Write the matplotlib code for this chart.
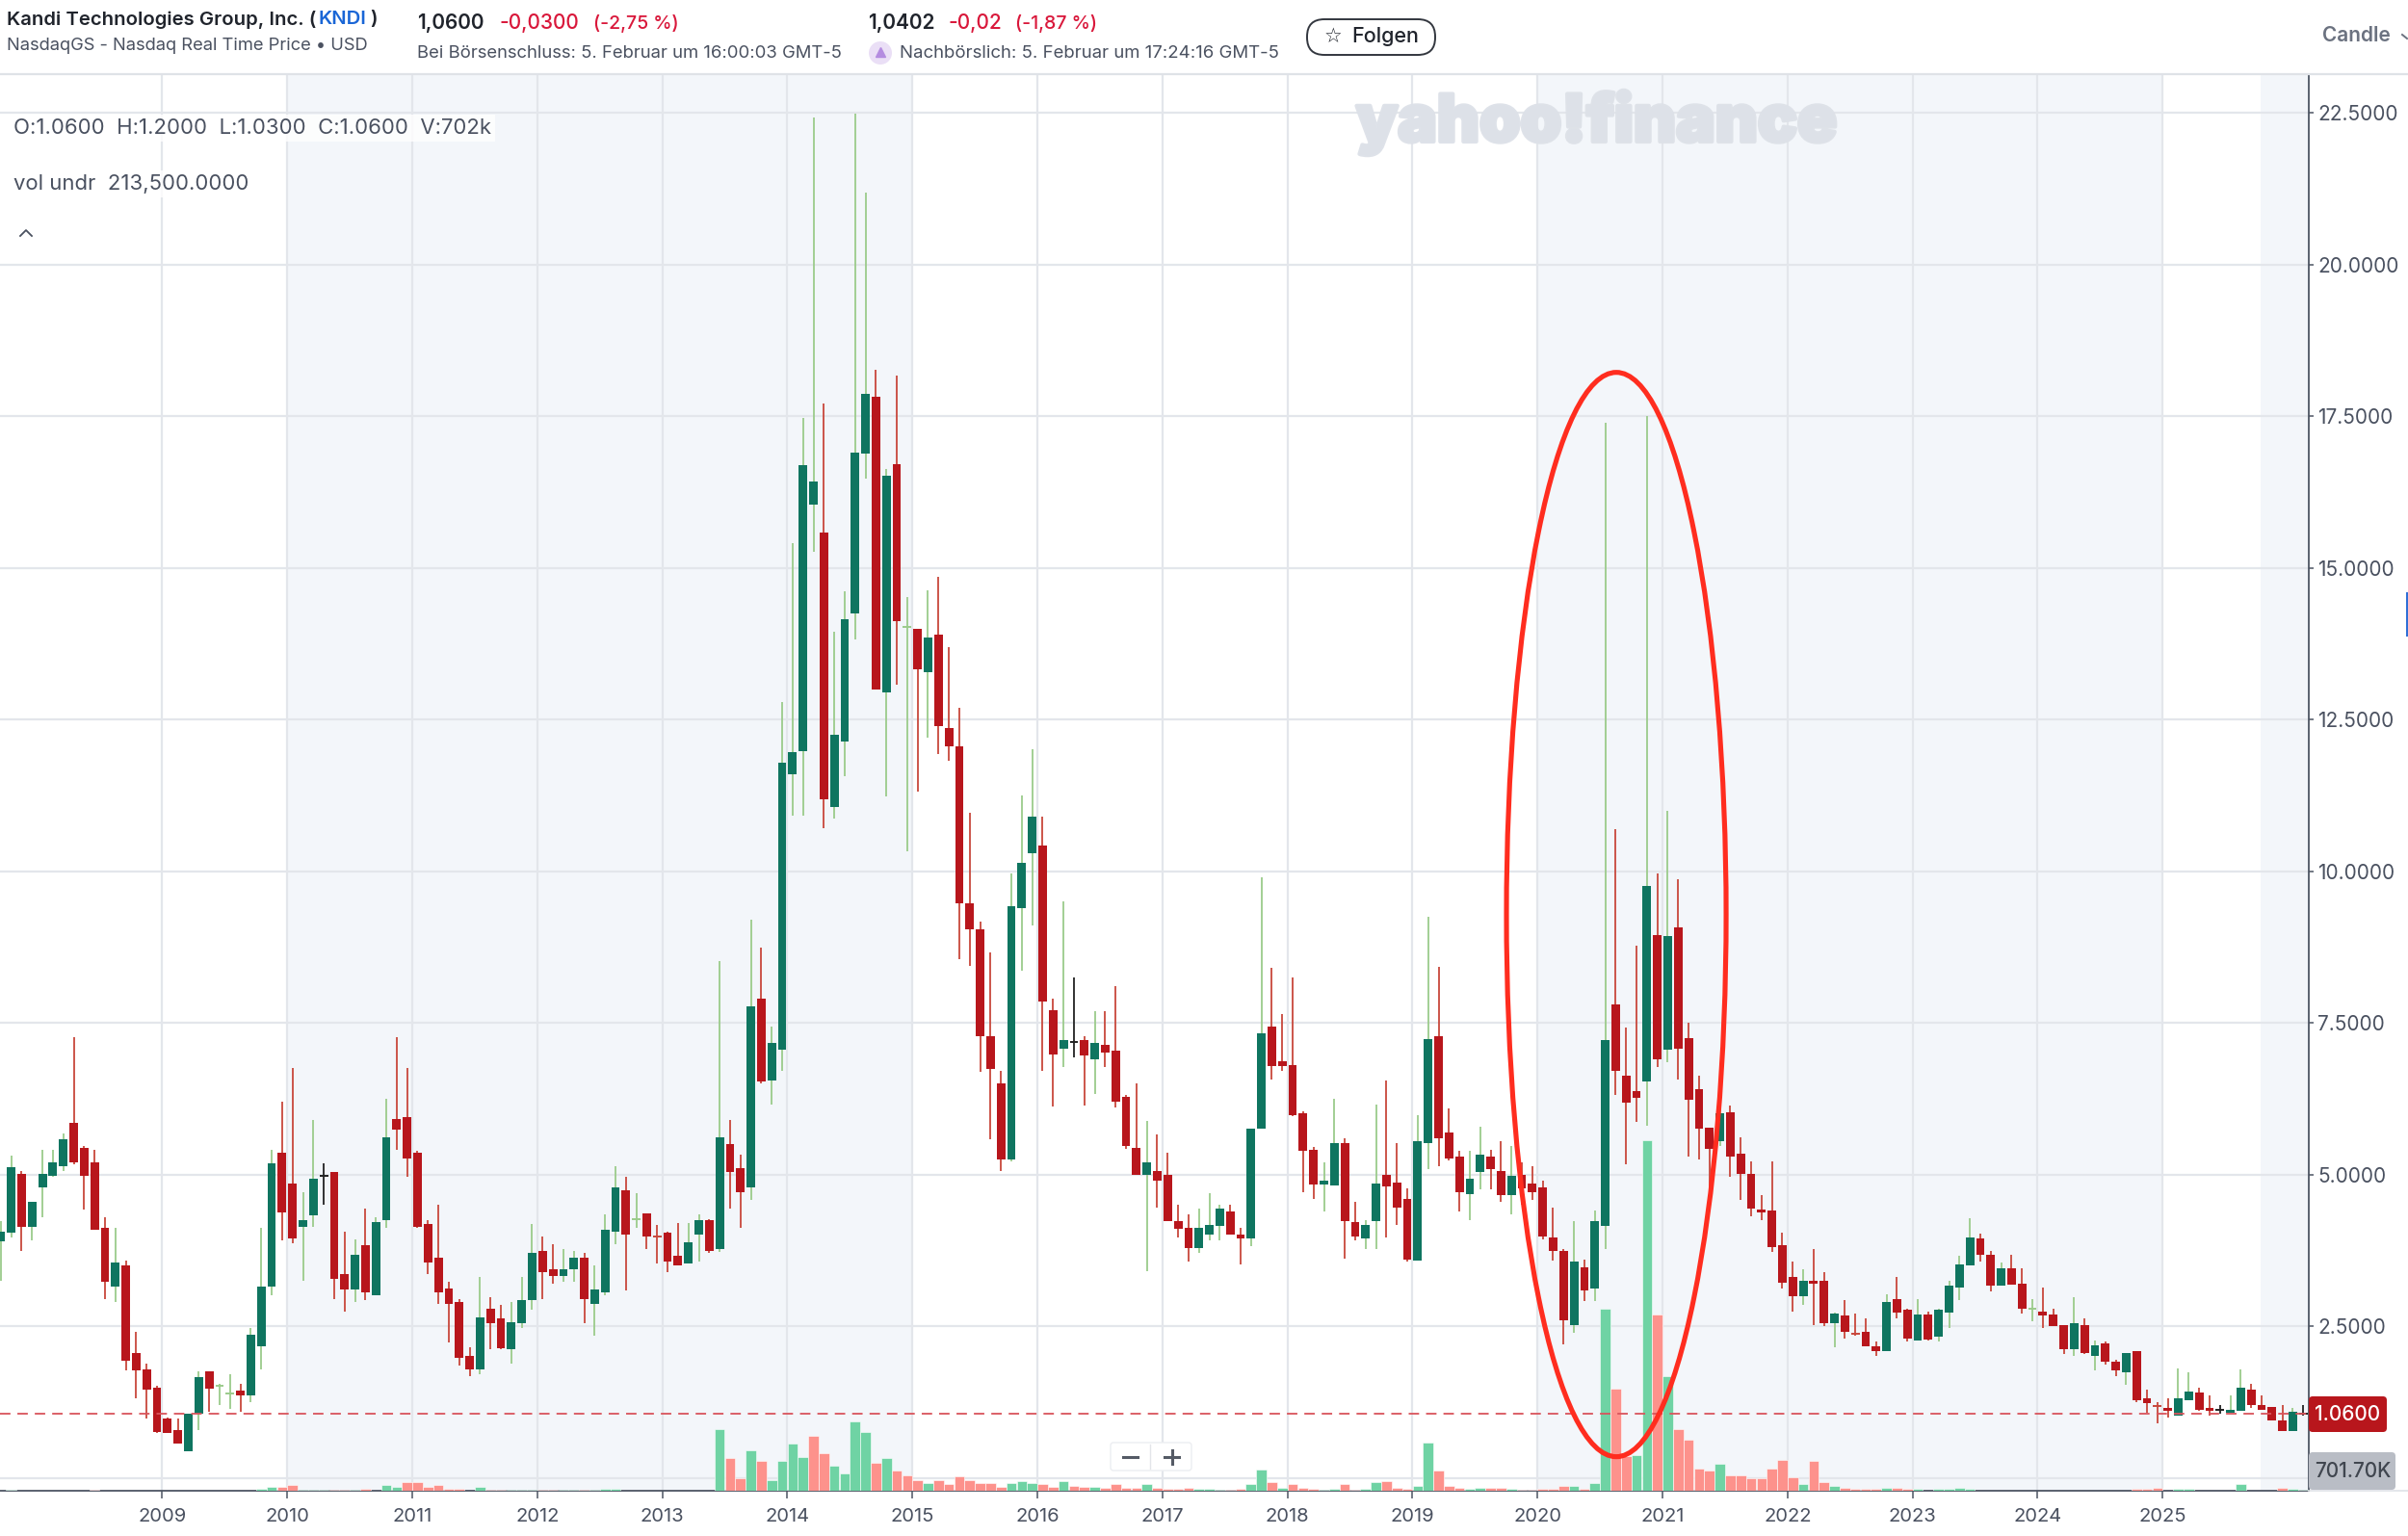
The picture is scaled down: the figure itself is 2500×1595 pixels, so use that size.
# encoding=utf-8
import matplotlib
matplotlib.use('Agg')
import matplotlib.pyplot as plt
import matplotlib.patheffects as pe
from matplotlib.patches import Ellipse, FancyBboxPatch, Circle, Rectangle
import pandas as pd

plt.rcParams['font.family'] = ['Inter', 'DejaVu Sans']

# monthly candles, sep 2007 .. feb 2026 (one row per year)
opens = [3.90, 4.05, 5.01, 4.15,
    4.79, 4.98, 5.14, 5.85, 5.44, 5.21, 4.12, 3.16, 3.51, 2.06, 1.79, 1.50,
    0.98, 0.80, 0.45, 1.07, 1.76, 1.51, 1.38, 1.45, 1.36, 2.17, 3.16, 5.37,
    4.86, 4.15, 4.33, 4.98, 5.04, 3.36, 3.11, 3.84, 3.01, 4.25, 5.92, 5.95,
    5.37, 4.19, 3.64, 3.13, 2.91, 2.01, 1.79, 2.80, 2.63, 2.12, 2.55, 2.93,
    3.74, 3.44, 3.34, 3.44, 3.64, 2.88, 3.06, 4.07, 4.75, 4.26, 4.37, 3.99,
    4.05, 3.67, 3.54, 4.01, 4.25, 3.77, 5.51, 5.11, 4.79, 7.91, 6.55, 7.07,
    11.60, 11.99, 16.04, 15.58, 11.07, 12.14, 14.26, 16.89, 17.83, 12.95, 16.72, 14.02,
    14.00, 13.28, 13.90, 12.37, 12.07, 9.48, 9.05, 7.28, 6.51, 5.25, 9.39, 10.30,
    10.42, 7.72, 7.08, 7.19, 7.22, 6.90, 7.14, 7.04, 6.29, 5.44, 5.00, 5.06,
    5.00, 4.24, 4.12, 3.80, 4.01, 4.16, 4.40, 4.02, 3.95, 5.76, 7.44, 6.87,
    6.81, 6.01, 5.42, 4.84, 4.83, 5.52, 4.22, 3.95, 4.23, 5.00, 4.88, 4.60,
    3.59, 5.53, 7.29, 5.70, 5.30, 4.69, 5.04, 5.30, 5.06, 4.66, 5.00, 4.85,
    4.79, 3.97, 3.74, 2.53, 3.47, 3.12, 4.16, 7.81, 6.64, 6.38, 6.54, 8.95,
    7.06, 9.08, 7.25, 6.41, 5.78, 5.56, 6.03, 5.35, 5.02, 4.43, 4.41, 3.84,
    3.31, 3.00, 3.26, 3.26, 2.56, 2.68, 2.39, 2.42, 2.17, 2.10, 2.96, 2.78,
    2.27, 2.70, 2.33, 2.73, 3.14, 3.50, 3.95, 3.69, 3.17, 3.46, 3.21, 2.78,
    2.75, 2.70, 2.52, 2.13, 2.52, 2.02, 2.22, 1.92, 1.74, 2.09, 1.31, 1.20,
    1.16, 1.03, 1.28, 1.41, 1.16, 1.12, 1.08, 1.11, 1.46, 1.20, 1.18, 0.96,
    0.78, 1.06]
highs = [4.24, 5.32, 5.06, 4.55,
    5.42, 5.42, 5.68, 7.27, 5.47, 5.42, 4.30, 4.12, 3.59, 2.42, 1.89, 1.53,
    1.00, 0.98, 1.07, 1.76, 1.76, 1.56, 1.71, 1.56, 2.47, 4.12, 5.42, 6.21,
    6.76, 4.71, 5.90, 5.19, 5.04, 4.07, 3.94, 4.45, 4.30, 6.25, 7.27, 6.76,
    5.39, 4.25, 4.51, 3.24, 2.96, 2.16, 3.31, 2.98, 2.85, 2.91, 3.31, 4.19,
    3.98, 3.86, 3.77, 3.74, 3.72, 3.51, 4.35, 5.15, 4.96, 4.70, 4.37, 4.17,
    4.06, 4.20, 4.20, 4.35, 4.27, 8.52, 5.90, 5.34, 9.20, 8.74, 7.45, 12.80,
    15.41, 17.48, 22.42, 17.71, 13.95, 14.62, 22.49, 21.19, 18.26, 16.63, 18.17, 14.52,
    14.00, 14.64, 14.86, 13.69, 12.70, 10.96, 9.18, 8.67, 6.72, 9.97, 11.26, 12.02,
    10.91, 7.91, 9.50, 8.26, 7.29, 7.70, 7.70, 8.11, 6.32, 6.50, 5.89, 5.67,
    5.37, 4.50, 4.35, 4.45, 4.70, 4.50, 4.50, 4.12, 5.76, 9.91, 8.41, 7.65,
    8.26, 6.04, 5.46, 5.21, 6.26, 5.61, 4.55, 4.25, 6.16, 6.56, 5.52, 4.78,
    5.98, 9.25, 8.43, 6.10, 5.39, 5.39, 5.80, 5.42, 5.55, 5.47, 5.21, 5.14,
    4.91, 4.46, 3.78, 4.23, 3.60, 4.41, 17.40, 10.70, 7.43, 8.77, 17.50, 9.97,
    11.00, 9.87, 7.50, 6.64, 5.78, 6.69, 6.15, 5.62, 5.22, 4.66, 5.22, 4.05,
    3.57, 3.44, 3.78, 3.39, 2.73, 2.93, 2.72, 2.63, 2.25, 3.03, 3.32, 2.80,
    2.95, 2.75, 2.80, 3.26, 3.67, 4.28, 4.03, 3.74, 3.56, 3.69, 3.46, 2.96,
    3.14, 2.80, 2.52, 2.98, 2.63, 2.27, 2.25, 1.95, 2.07, 2.09, 1.46, 1.26,
    1.31, 1.81, 1.74, 1.49, 1.36, 1.20, 1.36, 1.79, 1.56, 1.36, 1.18, 1.20,
    1.16, 1.20]
lows = [3.26, 3.97, 3.74, 3.92,
    4.30, 4.97, 5.07, 5.17, 4.43, 4.10, 2.96, 2.91, 1.77, 1.31, 0.98, 0.75,
    0.75, 0.57, 0.45, 0.80, 1.10, 1.20, 1.15, 1.10, 1.26, 1.79, 3.01, 3.92,
    3.87, 3.26, 4.15, 4.51, 2.96, 2.75, 2.91, 2.94, 3.01, 4.12, 5.42, 4.97,
    4.12, 3.36, 2.88, 2.24, 1.86, 1.69, 1.72, 2.12, 2.12, 1.89, 2.48, 2.78,
    2.96, 3.21, 3.24, 3.24, 2.55, 2.35, 3.01, 3.85, 3.09, 4.13, 3.77, 3.54,
    3.39, 3.50, 3.54, 3.57, 3.72, 3.73, 4.44, 4.13, 4.58, 6.51, 6.16, 6.72,
    10.92, 10.92, 15.27, 10.72, 10.87, 11.57, 13.82, 16.48, 13.00, 11.23, 13.07, 10.33,
    11.32, 12.21, 11.93, 11.83, 8.55, 8.45, 6.70, 5.58, 5.07, 5.22, 8.37, 9.11,
    6.72, 6.12, 6.77, 6.93, 6.14, 6.34, 6.77, 6.11, 5.43, 5.00, 3.42, 4.46,
    4.23, 3.97, 3.57, 3.72, 3.92, 3.92, 4.01, 3.52, 3.83, 5.76, 6.57, 6.72,
    5.96, 4.71, 4.61, 4.40, 4.83, 3.62, 3.92, 3.77, 3.77, 3.97, 4.18, 3.57,
    3.59, 5.09, 5.14, 5.24, 4.40, 4.25, 4.76, 4.76, 4.56, 4.35, 4.51, 4.59,
    3.94, 3.58, 2.21, 2.39, 2.92, 2.92, 3.78, 6.32, 5.17, 5.88, 5.81, 6.77,
    6.85, 6.57, 5.30, 5.25, 4.68, 5.48, 4.97, 4.59, 4.31, 4.26, 3.73, 3.12,
    2.74, 2.86, 2.53, 2.51, 2.16, 2.30, 2.35, 2.17, 2.02, 2.10, 2.63, 2.25,
    2.27, 2.27, 2.25, 2.48, 2.94, 3.50, 3.57, 3.08, 3.17, 3.19, 2.71, 2.58,
    2.48, 2.50, 2.05, 2.02, 2.05, 1.77, 1.87, 1.69, 1.54, 1.26, 1.08, 0.90,
    1.00, 1.03, 1.28, 1.11, 1.03, 1.06, 1.08, 1.11, 1.16, 1.13, 0.96, 0.78,
    0.78, 1.03]
closes = [4.07, 5.12, 4.15, 4.55,
    5.01, 5.21, 5.59, 5.21, 4.99, 4.10, 3.24, 3.56, 1.94, 1.77, 1.46, 0.77,
    0.75, 0.57, 1.07, 1.66, 1.48, 1.54, 1.41, 1.36, 2.37, 3.16, 5.19, 4.38,
    3.95, 4.25, 4.93, 4.98, 3.29, 3.11, 3.69, 3.06, 4.22, 5.62, 5.75, 5.27,
    4.15, 3.56, 3.06, 2.88, 1.99, 1.79, 2.65, 2.55, 2.14, 2.57, 2.93, 3.72,
    3.39, 3.34, 3.44, 3.64, 2.96, 3.11, 4.10, 4.79, 4.01, 4.27, 3.98, 3.98,
    3.57, 3.51, 3.89, 4.25, 3.75, 5.62, 5.05, 4.71, 7.78, 6.54, 7.17, 11.79,
    11.97, 16.69, 16.42, 11.19, 12.25, 14.16, 16.90, 17.87, 13.00, 16.52, 14.12, 14.04,
    13.33, 13.85, 12.39, 12.07, 9.47, 9.04, 7.28, 6.75, 5.25, 9.43, 10.14, 10.91,
    7.86, 6.98, 7.22, 7.19, 6.97, 7.17, 7.02, 6.21, 5.47, 5.00, 5.21, 4.90,
    4.23, 4.11, 3.80, 4.12, 4.17, 4.45, 4.01, 3.95, 5.76, 7.33, 6.79, 6.79,
    5.98, 5.40, 4.84, 4.91, 5.52, 4.23, 3.98, 4.17, 4.86, 4.81, 4.46, 3.61,
    5.55, 7.24, 5.60, 5.27, 4.71, 4.94, 5.34, 5.09, 4.66, 4.98, 4.77, 4.71,
    3.98, 3.75, 2.61, 3.57, 3.10, 4.23, 7.22, 6.72, 6.19, 6.27, 9.76, 6.90,
    8.93, 7.08, 6.24, 5.76, 5.43, 6.01, 5.30, 5.02, 4.44, 4.38, 3.81, 3.23,
    3.00, 3.26, 3.20, 2.56, 2.71, 2.41, 2.37, 2.17, 2.09, 2.90, 2.73, 2.30,
    2.70, 2.29, 2.78, 3.18, 3.52, 3.97, 3.68, 3.17, 3.46, 3.19, 2.79, 2.80,
    2.68, 2.50, 2.13, 2.55, 2.07, 2.19, 1.92, 1.77, 2.07, 1.28, 1.24, 1.18,
    1.11, 1.31, 1.43, 1.13, 1.11, 1.12, 1.13, 1.49, 1.20, 1.13, 0.96, 0.78,
    1.10, 1.06]
# volume in millions of shares
volumes = [0.3, 0.5, 0.3, 0.3,
    0.3, 0.3, 0.3, 0.3, 0.3, 0.5, 0.3, 0.3, 0.3, 0.3, 0.3, 0.3,
    0.3, 0.3, 0.3, 0.3, 0.3, 0.3, 0.3, 0.3, 0.3, 1.6, 2.7, 2.7,
    4.0, 0.5, 0.5, 0.5, 0.5, 0.5, 0.5, 1.6, 0.3, 4.0, 2.7, 6.4,
    6.4, 2.7, 4.0, 1.6, 1.6, 0.3, 2.7, 0.5, 0.5, 0.5, 0.5, 0.5,
    0.5, 0.5, 0.5, 0.5, 0.5, 0.5, 1.6, 1.6, 0.3, 0.3, 0.3, 0.3,
    0.3, 0.3, 0.3, 0.3, 0.3, 45, 24, 9.3, 29.5, 21.7, 8, 21.7,
    34, 24.8, 40, 27, 18, 12.4, 50.5, 42.8, 20.5, 23.6, 14.9, 11.5,
    8, 5.9, 8, 4.7, 10.2, 8, 5.9, 5.9, 2.5, 5.9, 7, 5.9,
    4.7, 2.5, 7, 3.7, 2.5, 2.5, 2.3, 4.7, 2.3, 2.3, 4.7, 2.3,
    1.3, 1.3, 2.3, 1.3, 1.3, 0.5, 0.5, 1.3, 4.7, 15.7, 6, 2.3,
    4.7, 2.3, 1.3, 0.5, 1.3, 4.7, 0.5, 1.3, 6, 7, 2.3, 1.3,
    3.7, 35, 14.7, 3.7, 2.3, 1.3, 2.3, 2.3, 2.3, 1.3, 0.5, 0.5,
    1.6, 1.6, 3.5, 3.5, 1.6, 5.7, 132, 74, 25, 26, 255, 128,
    83, 45, 37, 16, 14.7, 19.5, 11.5, 11.5, 9.3, 9.3, 16, 22.6,
    10, 4.8, 21.7, 6, 3.5, 2.2, 1.6, 1.6, 1.6, 2.3, 2.3, 1.2,
    1.2, 0.3, 1.2, 1.2, 2.3, 1.2, 0.3, 0.3, 0.3, 0.3, 0.3, 0.3,
    0.3, 0.3, 0.3, 0.3, 0.3, 0.3, 0.3, 0.3, 0.3, 1.2, 1.2, 2.3,
    0.3, 1.2, 1.2, 0.3, 0.3, 0.3, 0.3, 4.7, 0.3, 0.3, 0.3, 2.3,
    1.2, 0.7]
# months where the volume bar colour differs from the candle
vol_flip = ['2010-11', '2014-03', '2014-12', '2016-04', '2017-12', '2020-10']
year_ticks = list(range(2009, 2026))
price_ticks = [2.5, 5.0, 7.5, 10.0, 12.5, 15.0, 17.5, 20.0, 22.5]
shaded_spans = [(2010, 2015), (2020, 2025), (2025.78, 2026.17)]
last_price = 1.06

UP = '#0f7560'
DOWN = '#b8161c'
UP_WICK = '#9bcb8b'
DOWN_WICK = '#c8483c'
VOL_UP = '#6fd3a4'
VOL_DOWN = '#fd928c'
GRID = '#e3e6eb'
AXIS = '#4d5563'
TEXT = '#4a5160'

dates = pd.date_range('2007-09-01', periods=len(opens), freq='MS')
x = [d.year + (d.month - 0.5) / 12 for d in dates]

W, H = 2500, 1595
fig = plt.figure(figsize=(W / 100, H / 100), dpi=100)
ax_right, ax_top, ax_bottom = 2397, 77, 1548
ax = fig.add_axes([0, 1 - ax_bottom / H, ax_right / W, (ax_bottom - ax_top) / H])
ax.set_xlim(2007.702, 2026.169)
ax.set_ylim(-0.206, 23.14)

for a, b in shaded_spans:
    ax.axvspan(a, b, color='#f3f6fa', lw=0, zorder=0)

ax.set_axisbelow(True)
ax.grid(True, color=GRID, lw=1.6)
ax.axhline(0, color=GRID, lw=1.6, zorder=0.5)

# candles
body_w = 0.068
for i in range(len(opens)):
    o, h, l, c = opens[i], highs[i], lows[i], closes[i]
    if o == c:
        body, wick = 'black', '#222222'
    elif c > o:
        body, wick = UP, UP_WICK
    else:
        body, wick = DOWN, DOWN_WICK
    ax.vlines(x[i], l, h, color=wick, lw=1.3, zorder=2)
    if abs(c - o) <= 0.031:
        ax.hlines((o + c) / 2, x[i] - body_w / 2, x[i] + body_w / 2, color=wick, lw=1.4, zorder=3)
    else:
        ax.bar(x[i], abs(c - o), bottom=min(o, c), width=body_w, color=body, lw=0, zorder=3)

# volume on its own scale, same baseline
ax2 = ax.twinx()
ax2.set_ylim(0, (ax_bottom - ax_top) * 0.7)
ax2.axis('off')
vol_col = []
for i in range(len(volumes)):
    up = closes[i] >= opens[i]
    if dates[i].strftime('%Y-%m') in vol_flip:
        up = not up
    vol_col.append(VOL_UP if up else VOL_DOWN)
ax2.bar(x, volumes, width=0.082, color=vol_col, edgecolor='white', lw=0.4, zorder=2)

# axes dressing, after twinx because twinx moves the ticks back to the left
ax.set_xticks(year_ticks)
ax.set_xticklabels([str(y) for y in year_ticks], fontsize=14.5, color=TEXT)
ax.set_yticks(price_ticks)
ax.set_yticklabels(['%.4f' % p for p in price_ticks], fontsize=15, color=TEXT)
ax.yaxis.tick_right()
ax.tick_params(axis='x', length=6, width=1.1, color=AXIS, pad=7)
ax.tick_params(axis='y', length=3.5, width=1.1, color=AXIS, pad=3)
for s in ['left', 'top']:
    ax.spines[s].set_visible(False)
for s in ['right', 'bottom']:
    ax.spines[s].set_color(AXIS)
    ax.spines[s].set_linewidth(1.3)

# last price line and the hand drawn ellipse
ax2.plot([2007.702, 2026.169], [last_price, last_price], transform=ax.transData,
         color='#d9545c', lw=1.3, dashes=(6, 4), zorder=4)
ax2.add_patch(Ellipse((2020.63, 9.29), 1.757, 17.87, transform=ax.transData, fill=False,
                      ec='#ff2d1f', lw=3.7, zorder=6))

# everything around the chart is placed in page pixels
ov = fig.add_axes([0, 0, 1, 1], zorder=10)
ov.set_xlim(0, W)
ov.set_ylim(H, 0)
ov.axis('off')
ov.patch.set_alpha(0)

def put(px, py, s, size=13.3, color=TEXT, weight='normal', ha='left', **kw):
    return ov.text(px, py, s, fontsize=size, color=color, fontweight=weight, ha=ha, va='center', **kw)

ov.plot([0, W], [77, 77], color='#dfe2e7', lw=1.6)
ov.plot([2397, W], [1548, 1548], color='#dfe2e7', lw=1.2)

# watermark
put(1408, 127, 'yahoo!finance', size=49, color='#dde1e8', weight='black',
    path_effects=[pe.withStroke(linewidth=3, foreground='#dde1e8')], alpha=0.95, zorder=1)

# header
put(7, 20, 'Kandi Technologies Group, Inc. (', size=14.6, color='#20242c', weight='semibold')
put(330, 20, 'KNDI', size=14.6, color='#1a66d6', weight='semibold')
put(384, 20, ')', size=14.6, color='#20242c', weight='semibold')
put(7, 48, 'NasdaqGS - Nasdaq Real Time Price • USD', size=13.2)
put(433, 24, '1,0600', size=15, color='#20242c', weight='semibold')
put(518, 24, '-0,0300', size=15, color='#d9183b', weight='medium')
put(616, 24, '(-2,75 %)', size=14, color='#d9183b', weight='medium')
put(433, 55, 'Bei Börsenschluss: 5. Februar um 16:00:03 GMT-5')
put(901, 24, '1,0402', size=15, color='#20242c', weight='semibold')
put(984, 24, '-0,02', size=15, color='#d9183b', weight='medium')
put(1054, 24, '(-1,87 %)', size=14, color='#d9183b', weight='medium')
ov.add_patch(Circle((914, 55), 12, fc='#eadff6', ec='none'))
ov.plot([914], [54], marker='^', ms=7, color='#b48ce0')
put(934, 55, 'Nachbörslich: 5. Februar um 17:24:16 GMT-5', size=13.4)
ov.add_patch(FancyBboxPatch((1357, 20), 133, 37, boxstyle='round,pad=0,rounding_size=18',
                            fc='white', ec='#33373f', lw=1.4))
put(1375, 38, '☆', size=15, color='#20242c', family=['DejaVu Sans'])
put(1403, 38, 'Folgen', size=15.5, color='#20242c', weight='medium')
put(2411, 37, 'Candle', size=15, color='#6b7280', weight='semibold')
ov.plot([2494, 2499], [36, 40], color='#6b7280', lw=1.4)

# readout
put(14, 133, 'O:1.0600  H:1.2000  L:1.0300  C:1.0600  V:702k', size=15.9,
    bbox=dict(fc='white', ec='none', alpha=0.8, pad=3))
put(14, 191, 'vol undr  213,500.0000', size=15.9,
    bbox=dict(fc='white', ec='none', alpha=0.8, pad=3))
ov.plot([21, 27, 33], [245, 239, 245], color=TEXT, lw=1.3)

# price and volume tags
ov.add_patch(FancyBboxPatch((2397, 1450), 81, 37, boxstyle='round,pad=0,rounding_size=4',
                            fc=DOWN, ec='none'))
put(2437, 1469, '1.0600', size=15, color='white', ha='center', weight='medium')
ov.add_patch(FancyBboxPatch((2397, 1508), 90, 39, boxstyle='round,pad=0,rounding_size=4',
                            fc='#b9bdc5', ec='none'))
put(2443, 1528, '701.70K', size=15, color='#40464f', ha='center', weight='medium')

# zoom buttons
ov.add_patch(FancyBboxPatch((1153, 1498), 84, 29, boxstyle='round,pad=0,rounding_size=3',
                            fc='white', ec='#eceef1', lw=1))
ov.plot([1194, 1194], [1500, 1525], color='#e3e5e9', lw=1)
ov.plot([1166, 1181], [1513, 1513], color='#555b66', lw=2.2)
ov.plot([1209, 1224], [1513, 1513], color='#555b66', lw=2.2)
ov.plot([1216.5, 1216.5], [1506, 1520], color='#555b66', lw=2.2)

# the little blue tab on the right edge
ov.add_patch(Rectangle((2498, 615), 2, 46, fc='#2f6fd6', ec='none'))

plt.savefig('out.png', dpi=100)
